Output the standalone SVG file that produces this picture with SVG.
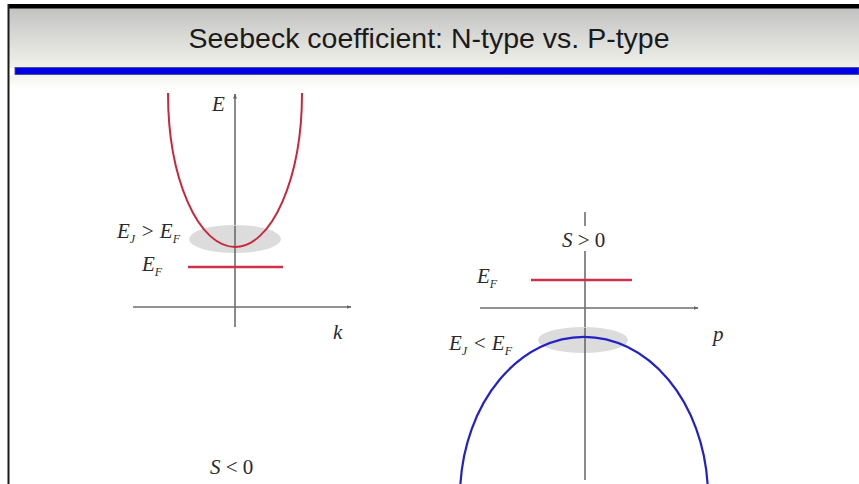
<svg xmlns="http://www.w3.org/2000/svg" width="859" height="484" viewBox="0 0 859 484">
<defs>
<linearGradient id="hdr" x1="0" y1="0" x2="0" y2="1">
<stop offset="0" stop-color="#c2c2c2"/>
<stop offset="1" stop-color="#f2f2ec"/>
</linearGradient>
<linearGradient id="sub" x1="0" y1="0" x2="0" y2="1">
<stop offset="0" stop-color="#f3f3ee"/>
<stop offset="1" stop-color="#ffffff"/>
</linearGradient>
<marker id="arr" viewBox="0 0 10 10" refX="9" refY="5" markerWidth="5" markerHeight="5" orient="auto" markerUnits="userSpaceOnUse">
<path d="M0,1 L10,5 L0,9 Z" fill="#666"/>
</marker>
</defs>
<style>
.ax{stroke:#6e6e6e;stroke-width:1.6;fill:none}
.m{font-family:"Liberation Serif","DejaVu Serif",serif;font-style:italic;font-size:21px;fill:#2a2a2a}
.s{font-size:12px}
.ef{stroke:#d0304a;stroke-width:2.4}
</style>
<rect x="0" y="0" width="859" height="484" fill="#ffffff"/>
<rect x="9" y="8" width="850" height="60" fill="url(#hdr)"/>
<rect x="9" y="75" width="850" height="14" fill="url(#sub)"/>
<rect x="8" y="4" width="851" height="4.5" fill="#000"/>
<rect x="7.5" y="4" width="2" height="480" fill="#1a1a1a"/>
<rect x="15" y="67.5" width="844" height="7" fill="#0000e6" stroke="#4a4a8a" stroke-width="0.9"/>
<text x="429" y="48" text-anchor="middle" font-family="Liberation Sans,Arial,sans-serif" font-size="28.5" fill="#1a1a1a">Seebeck coefficient: N-type vs. P-type</text>

<g id="connectors">
<line class="ax" x1="235" y1="327" x2="235" y2="94" marker-end="url(#arr)"/>
<line class="ax" x1="133" y1="307" x2="351" y2="307" marker-end="url(#arr)"/>
<line class="ax" x1="585" y1="212" x2="585" y2="226"/>
<line class="ax" x1="585" y1="251" x2="585" y2="480"/>
<line class="ax" x1="480" y1="308" x2="698" y2="308" marker-end="url(#arr)"/>
</g>

<g id="n-type">
<ellipse cx="235" cy="239" rx="46" ry="14" fill="#d6d6d6" opacity="0.85"/>
<line class="ax" x1="235" y1="226" x2="235" y2="253"/>
<path d="M168,93 A67 154 0 0 0 302,93" fill="none" stroke="#c8283c" stroke-width="2"/>
<line class="ef" x1="188" y1="267" x2="283" y2="267"/>
</g>

<g id="p-type">
<ellipse cx="583" cy="340" rx="45" ry="13" fill="#d6d6d6" opacity="0.85"/>
<line class="ax" x1="585" y1="328" x2="585" y2="353"/>
<path d="M460.4,484 A124 160 0 0 1 707.6,484" fill="none" stroke="#2222c4" stroke-width="2.2"/>
<line class="ef" x1="531" y1="280" x2="632" y2="280"/>
</g>

<g id="labels">
<text class="m" x="212" y="111">E</text>
<text class="m" x="333" y="339">k</text>
<text class="m" x="117" y="238">E<tspan class="s" dy="5">J</tspan><tspan dy="-5"> &gt;  E</tspan><tspan class="s" dy="5">F</tspan></text>
<text class="m" x="142" y="271">E<tspan class="s" dy="5">F</tspan></text>
<text class="m" x="477" y="283">E<tspan class="s" dy="5">F</tspan></text>
<text class="m" x="449" y="350">E<tspan class="s" dy="5">J</tspan><tspan dy="-5"> &lt; E</tspan><tspan class="s" dy="5">F</tspan></text>
<text class="m" x="713" y="341">p</text>
<text x="562" y="247" font-family="Liberation Serif,serif" font-size="21" fill="#2a2a2a"><tspan font-style="italic">S</tspan> &gt; 0</text>
<text x="210" y="474" font-family="Liberation Serif,serif" font-size="21" fill="#2a2a2a"><tspan font-style="italic">S</tspan> &lt; 0</text>
</g>
</svg>
